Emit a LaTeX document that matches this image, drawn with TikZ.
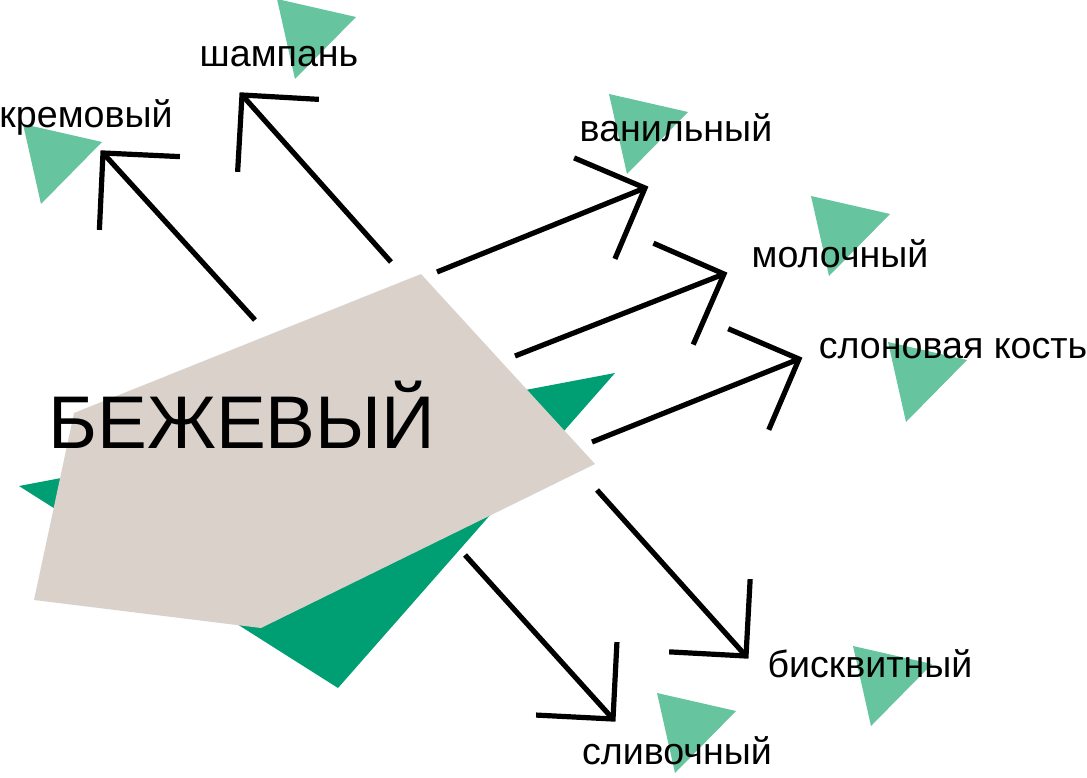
\documentclass[tikz,border=0pt]{standalone}
\usepackage{fontspec}
\setmainfont{Liberation Sans}
\usetikzlibrary{calc}
\definecolor{beige}{HTML}{DAD1CA}
\definecolor{dkgreen}{HTML}{009E73}
\definecolor{ltgreen}{HTML}{66C59E}
\begin{document}
\begin{tikzpicture}[x=0.75pt,y=-0.75pt,
  lbl/.style={font=\fontsize{28.2}{33}\selectfont, anchor=base, inner sep=0pt},
  big/.style={font=\fontsize{56}{64}\selectfont, anchor=base, inner sep=0pt},
  shaft/.style={line width=3.9pt},
  headline/.style={line width=3.9pt, line join=miter},
  ltri/.pic={\fill[ltgreen] (0,0) -- (79,18) -- (18,80) -- cycle;}]
\useasboundingbox (0,0) rectangle (1087,777);
% background shapes
\fill[dkgreen] (19,486) -- (615,373) -- (338,688) -- cycle;
\fill[beige] (421,274) -- (595,464) -- (261,628) -- (34,600) -- (74,413) -- cycle;
\node[big] (main) at (242,448) {БЕЖЕВЫЙ};
% light triangles
\pic at (23,124) {ltri};
\pic at (277,-1) {ltri};
\pic at (609,94) {ltri};
\pic at (811,196) {ltri};
\pic at (888,342) {ltri};
\pic at (853,646) {ltri};
\pic at (657,693) {ltri};
% labels
\node[lbl] (l1) at (86,128) {кремовый};
\node[lbl] (l2) at (279,67) {шампань};
\node[lbl] (l3) at (676,142) {ванильный};
\node[lbl] (l4) at (840,267) {молочный};
\node[lbl] (l5) at (953,358) {слоновая кость};
\node[lbl] (l6) at (870,677) {бисквитный};
\node[lbl] (l7) at (677,764) {сливочный};
% arrow coordinates
\coordinate (s1) at (255,320); \coordinate (t1) at (103,153);
\coordinate (s2) at (391,262); \coordinate (t2) at (242,95);
\coordinate (s3) at (437,272); \coordinate (t3) at (645,188);
\coordinate (s4) at (515,356); \coordinate (t4) at (724,274);
\coordinate (s5) at (592,442); \coordinate (t5) at (799,359);
\coordinate (s6) at (597,490); \coordinate (t6) at (746,656);
\coordinate (s7) at (465,555); \coordinate (t7) at (613,719);
\foreach \i in {1,...,7}{
  \draw[shaft] (s\i) -- (t\i);
  \draw[headline] ($(t\i)!57.75pt!45:(s\i)$) -- (t\i) -- ($(t\i)!57.75pt!-45:(s\i)$);
}
\end{tikzpicture}
\end{document}
